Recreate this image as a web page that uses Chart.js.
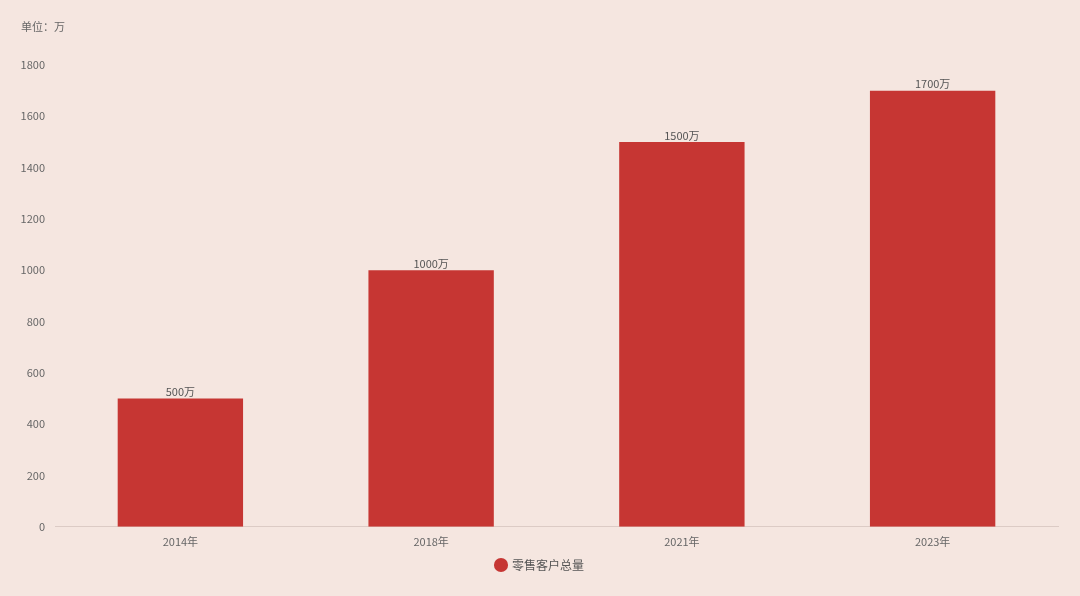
<!DOCTYPE html>
<html lang="zh">
<head>
    <meta charset="UTF-8">
    <script src="https://cdn.jsdelivr.net/npm/chart.js@4/dist/chart.umd.min.js"></script>
    <title>零售客户总量</title>
    <style>
        html, body {
            margin: 0;
            padding: 0;
            background: #f5e6e0;
        }
        #wrap {
            width: 1080px;
            height: 596px;
        }
    </style>
</head>
<body>
    <div id="wrap"><canvas id="chart"></canvas></div>
<script>
    const years = ['2014年', '2018年', '2021年', '2023年'];
    const customers = [500, 1000, 1500, 1700];
    const seriesName = '零售客户总量';
    const unitLabel = '单位：万';

    const FONT = '"Noto Sans CJK SC", "DejaVu Sans", sans-serif';

    // value labels above each bar + unit text in the corner
    const barLabels = {
        id: 'barLabels',
        afterDatasetsDraw(chart) {
            const ctx = chart.ctx;
            const meta = chart.getDatasetMeta(0);
            ctx.save();
            ctx.font = '11px ' + FONT;
            ctx.fillStyle = '#555';
            ctx.textAlign = 'center';
            ctx.textBaseline = 'bottom';
            meta.data.forEach((bar, i) => {
                ctx.fillText(customers[i] + '万', bar.x, bar.y - 1);
            });
            ctx.textAlign = 'left';
            ctx.textBaseline = 'middle';
            ctx.fillStyle = '#666';
            ctx.fillText(unitLabel, 21, 27);
            ctx.restore();
        }
    };

    const ctx = document.getElementById('chart').getContext('2d');
    const chart = new Chart(ctx, {
        type: 'bar',
        data: {
            labels: years,
            datasets: [{
                label: seriesName,
                data: customers,
                backgroundColor: '#c63633',
                borderWidth: 0,
                barPercentage: 0.5,
                categoryPercentage: 1.0
            }]
        },
        options: {
            responsive: true,
            maintainAspectRatio: false,
            animation: false,
            layout: {
                padding: { left: 0, right: 0, top: 65, bottom: 15 }
            },
            plugins: {
                legend: {
                    position: 'bottom',
                    labels: {
                        usePointStyle: true,
                        pointStyle: 'circle',
                        boxWidth: 10,
                        boxHeight: 10,
                        color: '#555',
                        font: { family: FONT, size: 12 },
                        padding: 7
                    }
                },
                tooltip: { enabled: false }
            },
            scales: {
                x: {
                    afterFit(axis) { axis.height -= 4; },
                    grid: { display: false, drawTicks: false },
                    border: { display: true, color: '#dccbc5' },
                    ticks: {
                        color: '#666',
                        font: { family: FONT, size: 11 },
                        padding: 8
                    }
                },
                y: {
                    min: 0,
                    max: 1800,
                    afterFit(axis) { axis.width = 55; },
                    grid: { display: false, drawTicks: false },
                    border: { display: false },
                    ticks: {
                        stepSize: 200,
                        callback: v => String(v),
                        color: '#666',
                        font: { family: FONT, size: 11 },
                        padding: 10
                    }
                },
                // empty right-hand spacer so the legend stays centred on the page
                yRight: {
                    position: 'right',
                    min: 0,
                    max: 1800,
                    afterFit(axis) { axis.width = 22; },
                    grid: { display: false, drawTicks: false },
                    border: { display: false },
                    ticks: { display: false }
                }
            }
        },
        plugins: [barLabels]
    });
</script>
</body>
</html>
